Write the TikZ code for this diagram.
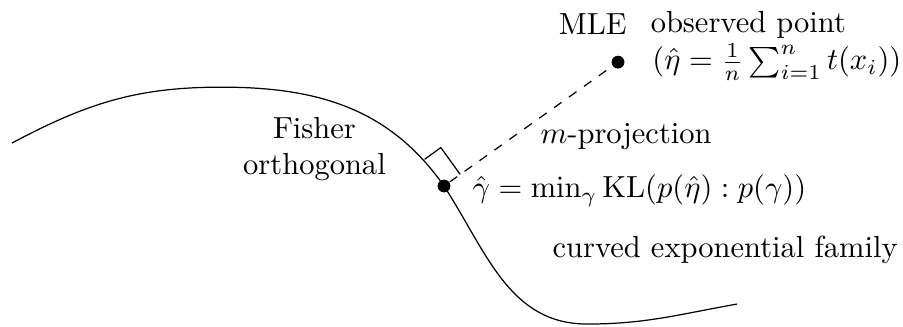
\documentclass[tikz,border=0pt]{standalone}
\usepackage{amsmath,amssymb}
\usepackage{tikz}
\usetikzlibrary{positioning,calc}

\begin{document}
\begin{tikzpicture}[xscale=1.0, yscale=1.0,
    dot/.style={circle, fill=black, inner sep=0pt, minimum size=4.2pt},
    lbl/.style={inner sep=0pt, anchor=base west}]
    \useasboundingbox (0,0) rectangle (10.403,3.756);
    % Projected point on the curve and the observed point
    \node[dot] (gam) at (5.115,1.613) {};
    \node[dot] (mle) at (7.12,3.04) {};
    % The curved exponential family
    \draw (0.138,2.108) to[out=28, in=180] (2.55,2.752) to[out=0, in=125] (gam.center)
      to[out=-57, in=180] (6.763,0.023) to[out=0, in=190] (8.491,0.253);
    % m-projection
    \draw[dashed] (gam) -- (mle);
    % Right angle mark at the projection
    \coordinate (ra) at ($(gam)+(125.9:0.38)$);
    \draw (ra) -- ++(35.9:0.23) -- ($(gam)+(35.9:0.23)$);
    % Labels
    \node[inner sep=0pt, anchor=base] (mlelbl) at (6.83,3.364) {MLE};
    \node[lbl] (obs) at (7.49,3.376) {observed point};
    \node[lbl] (eta) at (7.51,2.95) {$(\hat\eta=\frac{1}{n}\sum_{i=1}^n t(x_i))$};
    \node[lbl] (mproj) at (6.221,2.108) {$m$-projection};
    \node[lbl] (gamlbl) at (5.438,1.475) {$\hat\gamma=\min_\gamma \mathrm{KL}(p(\hat\eta):p(\gamma))$};
    \node[inner sep=0pt, anchor=base, align=center] (fisher) at (3.623,1.740) {Fisher\\orthogonal};
    \node[lbl] (family) at (6.359,0.795) {curved exponential family};
\end{tikzpicture}
\end{document}
